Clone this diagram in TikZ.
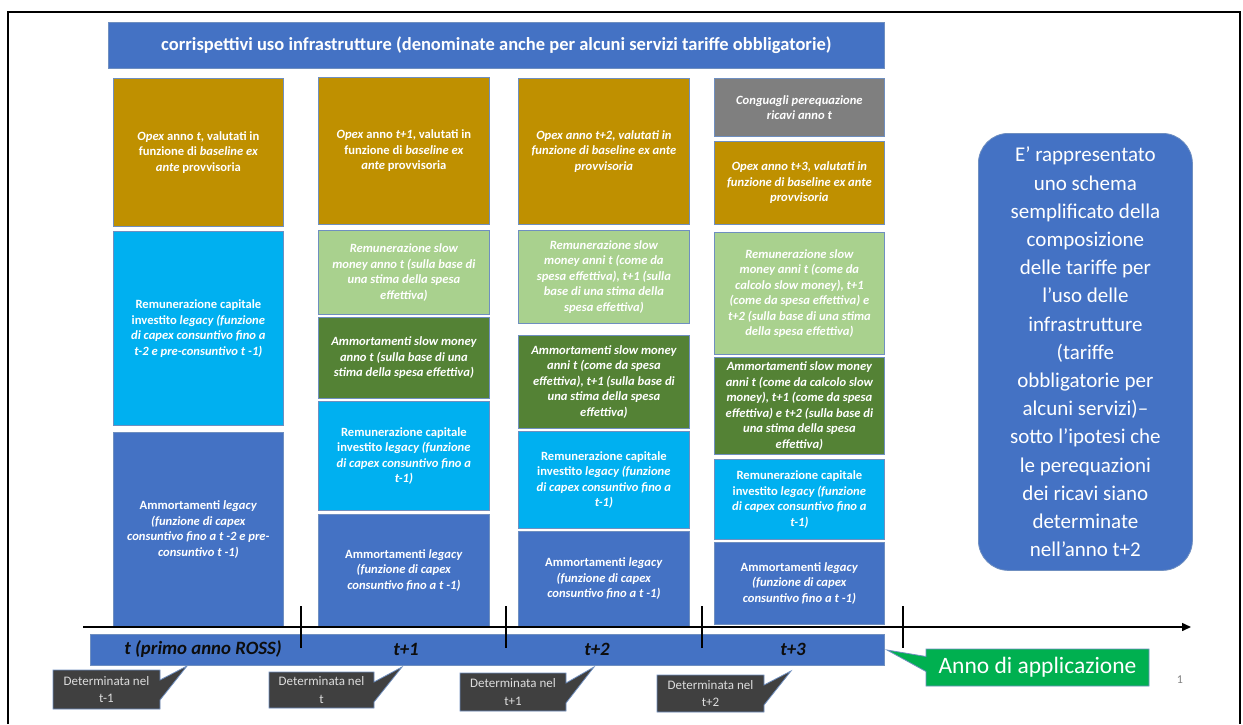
\documentclass[tikz,border=0pt]{standalone}
\usepackage{fontspec}
\setmainfont{Carlito}
\usetikzlibrary{shapes.callouts,arrows.meta}

\definecolor{hdrblue}{HTML}{4472C4}
\definecolor{opexgold}{HTML}{BF9000}
\definecolor{legcyan}{HTML}{00B0F0}
\definecolor{slowlight}{HTML}{A9D18E}
\definecolor{slowdark}{HTML}{548235}
\definecolor{adjgray}{HTML}{7F7F7F}
\definecolor{cellline}{HTML}{6F8FC0}
\definecolor{notegray}{HTML}{404040}
\definecolor{notetext}{HTML}{DDDDDD}
\definecolor{appgreen}{HTML}{00B050}
\definecolor{yeartext}{HTML}{0D0D0D}

\tikzset{
  cell/.style={draw=cellline, line width=0.8pt, text=white, align=center,
    anchor=north west, inner sep=2pt,
    font=\fontsize{12.6}{15.5}\selectfont\bfseries},
  slantcell/.style={cell, font=\fontsize{12.6}{15.5}\selectfont\bfseries\itshape},
  banner/.style={draw=cellline, line width=0.8pt, fill=hdrblue, anchor=north west},
  yearlabel/.style={text=yeartext, font=\fontsize{18.8}{22}\selectfont\bfseries\itshape},
  note/.style={rectangle callout, fill=notegray, draw=cellline, line width=0.8pt,
    text=notetext, align=center, inner sep=2pt, callout pointer width=20pt,
    font=\fontsize{13}{17.5}\selectfont},
  tick/.style={line width=1.3pt},
}

\begin{document}
\begin{tikzpicture}[x=1pt,y=-1pt]
\useasboundingbox (0,0) rectangle (1243,724);
\fill[white] (0,0) rectangle (1243,724);

% slide frame
\draw[line width=2.5pt] (8,724) -- (8,12) -- (1240,12) -- (1240,724);

% header
\node[banner, minimum width=776pt, minimum height=46pt, text=white,
  font=\fontsize{18.5}{22}\selectfont\bfseries] (hdr) at (108,22)
  {corrispettivi uso infrastrutture (denominate anche per alcuni servizi tariffe obbligatorie)};

% column t
\node[cell, fill=opexgold, minimum width=170pt, minimum height=148pt] (o1) at (113,78)
  {\textit{Opex} anno \textit{t}, valutati in\\ funzione di \textit{baseline ex}\\ \textit{ante} provvisoria};
\node[cell, fill=legcyan, minimum width=170pt, minimum height=194pt] (c1) at (113,231)
  {Remunerazione capitale\\ investito \textit{legacy (funzione}\\ \textit{di capex consuntivo fino a}\\ \textit{t-2 e pre-consuntivo t -1)}};
\node[cell, fill=hdrblue, minimum width=170pt, minimum height=194pt] (l1) at (113,432)
  {Ammortamenti \textit{legacy}\\ \textit{(funzione di capex}\\ \textit{consuntivo fino a t -2 e pre-}\\ \textit{consuntivo t -1)}};

% column t+1
\node[cell, fill=opexgold, minimum width=171pt, minimum height=147pt] (o2) at (318,77)
  {\textit{Opex} anno \textit{t+1}, valutati in\\ funzione di \textit{baseline ex}\\ \textit{ante} provvisoria};
\node[slantcell, fill=slowlight, minimum width=171pt, minimum height=84pt] (s2) at (318,230)
  {Remunerazione slow\\ money anno t (sulla base di\\ una stima della spesa\\ effettiva)};
\node[slantcell, fill=slowdark, minimum width=171pt, minimum height=81pt] (d2) at (318,317)
  {Ammortamenti slow money\\ anno t (sulla base di una\\ stima della spesa effettiva)};
\node[cell, fill=legcyan, minimum width=171pt, minimum height=109pt] (c2) at (318,401)
  {Remunerazione capitale\\ investito \textit{legacy (funzione}\\ \textit{di capex consuntivo fino a}\\ \textit{t-1)}};
\node[cell, fill=hdrblue, minimum width=171pt, minimum height=112pt] (l2) at (318,514)
  {Ammortamenti \textit{legacy}\\ \textit{(funzione di capex}\\ \textit{consuntivo fino a t -1)}};

% column t+2
\node[slantcell, fill=opexgold, minimum width=171pt, minimum height=146pt] (o3) at (518,78)
  {Opex anno t+2, valutati in\\ funzione di baseline ex ante\\ provvisoria};
\node[slantcell, fill=slowlight, minimum width=171pt, minimum height=93pt] (s3) at (518,230)
  {Remunerazione slow\\ money anni t (come da\\ spesa effettiva), t+1 (sulla\\ base di una stima della\\ spesa effettiva)};
\node[slantcell, fill=slowdark, minimum width=171pt, minimum height=93pt] (d3) at (518,335)
  {Ammortamenti slow money\\ anni t (come da spesa\\ effettiva), t+1 (sulla base di\\ una stima della spesa\\ effettiva)};
\node[cell, fill=legcyan, minimum width=171pt, minimum height=97pt] (c3) at (518,431)
  {Remunerazione capitale\\ investito \textit{legacy (funzione}\\ \textit{di capex consuntivo fino a}\\ \textit{t-1)}};
\node[cell, fill=hdrblue, minimum width=171pt, minimum height=95pt] (l3) at (518,531)
  {Ammortamenti \textit{legacy}\\ \textit{(funzione di capex}\\ \textit{consuntivo fino a t -1)}};

% column t+3
\node[slantcell, fill=adjgray, minimum width=170pt, minimum height=58pt] (g4) at (714,78)
  {Conguagli perequazione\\ ricavi anno t};
\node[slantcell, fill=opexgold, minimum width=170pt, minimum height=83pt] (o4) at (714,141)
  {Opex anno t+3, valutati in\\ funzione di baseline ex ante\\ provvisoria};
\node[slantcell, fill=slowlight, minimum width=170pt, minimum height=122pt] (s4) at (714,232)
  {Remunerazione slow\\ money anni t (come da\\ calcolo slow money), t+1\\ (come da spesa effettiva) e\\ t+2 (sulla base di una stima\\ della spesa effettiva)};
\node[slantcell, fill=slowdark, minimum width=170pt, minimum height=97pt] (d4) at (714,357)
  {Ammortamenti slow money\\ anni t (come da calcolo slow\\ money), t+1 (come da spesa\\ effettiva) e t+2 (sulla base di\\ una stima della spesa\\ effettiva)};
\node[cell, fill=legcyan, minimum width=170pt, minimum height=80pt] (c4) at (714,459)
  {Remunerazione capitale\\ investito \textit{legacy (funzione}\\ \textit{di capex consuntivo fino a}\\ \textit{t-1)}};
\node[cell, fill=hdrblue, minimum width=170pt, minimum height=82pt] (l4) at (714,542)
  {Ammortamenti \textit{legacy}\\ \textit{(funzione di capex}\\ \textit{consuntivo fino a t -1)}};

% side note
\node[draw=cellline, line width=0.8pt, fill=hdrblue, rounded corners=30pt,
  anchor=north west, minimum width=214pt, minimum height=437pt, text=white,
  align=center, font=\fontsize{21}{28.2}\selectfont] (side) at (978,133)
  {E’ rappresentato\\ uno schema\\ semplificato della\\ composizione\\ delle tariffe per\\ l’uso delle\\ infrastrutture\\ (tariffe\\ obbligatorie per\\ alcuni servizi)–\\ sotto l’ipotesi che\\ le perequazioni\\ dei ricavi siano\\ determinate\\ nell’anno t+2};

% year bar
\node[banner, minimum width=794pt, minimum height=31pt] (years) at (90,634) {};
\node[yearlabel] (y0) at (203,649) {t (primo anno ROSS)};
\node[yearlabel] (y1) at (406,649) {t+1};
\node[yearlabel] (y2) at (597,649) {t+2};
\node[yearlabel] (y3) at (793,649) {t+3};

% time axis with year ticks
\coordinate (ax0) at (83,627);
\coordinate (ax1) at (1191,627);
\draw[line width=1.5pt, -{Triangle[length=9pt,width=8pt]}] (ax0) -- (ax1);
\foreach \k/\x in {1/301,2/506,3/702,4/903} {
  \coordinate (tk\k a) at (\x,606);
  \coordinate (tk\k b) at (\x,648);
  \draw[tick] (tk\k a) -- (tk\k b);
}

% determination callouts
\node[note, minimum width=107pt, minimum height=39pt,
  callout absolute pointer={(187,666)}] (n0) at (106.5,689.5) {Determinata nel\\ t-1};
\node[note, minimum width=105pt, minimum height=36pt,
  callout absolute pointer={(402,667)}] (n1) at (321.5,690) {Determinata nel\\ t};
\node[note, minimum width=106pt, minimum height=38pt,
  callout absolute pointer={(594,667)}] (n2) at (513,692) {Determinata nel\\ t+1};
\node[note, minimum width=107pt, minimum height=37pt,
  callout absolute pointer={(791,671)}] (n3) at (710.5,693.5) {Determinata nel\\ t+2};

% application year callout
\node[rectangle callout, fill=appgreen, draw=cellline, line width=0.8pt,
  minimum width=223pt, minimum height=37pt, text=white,
  font=\fontsize{23.5}{27}\selectfont, callout pointer width=15pt,
  callout absolute pointer={(887,650)}] (app) at (1037.5,667.5) {Anno di applicazione};

% slide number
\node[text=gray, font=\fontsize{12}{14}\selectfont] (pg) at (1180,680) {1};
\end{tikzpicture}
\end{document}
